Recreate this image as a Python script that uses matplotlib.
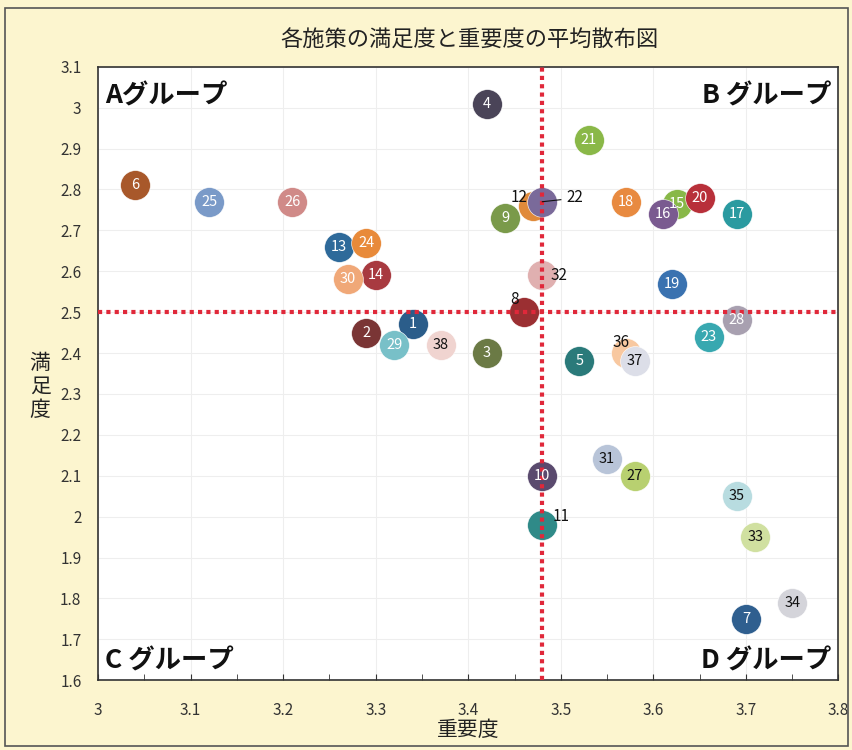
import matplotlib
matplotlib.use("Agg")
import matplotlib.pyplot as plt
from matplotlib.patches import Rectangle
import numpy as np

plt.rcParams["font.family"] = ["Noto Sans CJK JP", "DejaVu Sans"]

# 施策番号と 重要度(x) / 満足度(y)
ids = list(range(1, 39))
importance = [3.34, 3.29, 3.42, 3.42, 3.52, 3.04, 3.70, 3.46, 3.44, 3.48,
              3.48, 3.47, 3.26, 3.30, 3.625, 3.61, 3.69, 3.57, 3.62, 3.65,
              3.53, 3.48, 3.66, 3.29, 3.12, 3.21, 3.58, 3.69, 3.32, 3.27,
              3.55, 3.48, 3.71, 3.75, 3.69, 3.57, 3.58, 3.37]
satisfaction = [2.47, 2.45, 2.40, 3.01, 2.38, 2.81, 1.75, 2.50, 2.73, 2.10,
                1.98, 2.76, 2.66, 2.59, 2.765, 2.74, 2.74, 2.77, 2.57, 2.78,
                2.92, 2.77, 2.44, 2.67, 2.77, 2.77, 2.10, 2.48, 2.42, 2.58,
                2.14, 2.59, 1.95, 1.79, 2.05, 2.40, 2.38, 2.42]
colors = ["#2b5d8a", "#7a3535", "#6b7a45", "#4a4458", "#2a7a7a", "#a8582a",
          "#2f5f8f", "#9b2f32", "#7a9a4a", "#5a4a6e", "#2f8a88", "#e08a3a",
          "#2e6a9a", "#a83a40", "#88b848", "#7a5a90", "#2a9aa0", "#e88a40",
          "#3a72b0", "#b8303a", "#8ab848", "#7a6a9a", "#38a8b0", "#e88a3a",
          "#7a9ac8", "#d08a88", "#b8d070", "#a8a0b0", "#78c0c8", "#f0a878",
          "#b8c4d8", "#e0b0b0", "#d0e0a0", "#d4d4da", "#b8dce0", "#f8c8a0",
          "#dcdee8", "#f0d4d0"]
dark_text = {27, 31, 33, 34, 35, 37, 38}
outside = {8: (-0.01, 0.03), 11: (0.02, 0.02), 12: (-0.015, 0.02),
           22: (0.035, 0.01), 32: (0.018, 0.0), 36: (-0.005, 0.025)}
mean_x, mean_y = 3.48, 2.50
groups = ["Aグループ", "B グループ", "C グループ", "D グループ"]

fig = plt.figure(figsize=(8.53, 7.5), dpi=100)
fig.patch.set_facecolor("#fcf5cf")
fig.patches.append(Rectangle((0.006, 0.006), 0.988, 0.984, transform=fig.transFigure,
                             fill=False, edgecolor="#555555", linewidth=1.2))
ax = fig.add_axes([0.115, 0.093, 0.868, 0.818])
ax.set_facecolor("white")

ax.set_xlim(3.0, 3.8)
ax.set_ylim(1.6, 3.1)
ax.set_xticks(np.round(np.arange(3.0, 3.81, 0.1), 2))
ax.set_xticklabels(["3", "3.1", "3.2", "3.3", "3.4", "3.5", "3.6", "3.7", "3.8"])
ax.set_yticks(np.round(np.arange(1.6, 3.11, 0.1), 2))
ax.set_yticklabels(["1.6", "1.7", "1.8", "1.9", "2", "2.1", "2.2", "2.3", "2.4",
                    "2.5", "2.6", "2.7", "2.8", "2.9", "3", "3.1"])
ax.set_xticks(np.arange(3.05, 3.8, 0.1), minor=True)
ax.grid(True, color="#eeeeee", linewidth=0.8)
ax.tick_params(axis="x", which="both", direction="in", length=4, pad=16,
               labelsize=11, colors="#333333")
ax.tick_params(axis="y", length=0, pad=12, labelsize=11, colors="#333333")
for s in ax.spines.values():
    s.set_color("#333333")
    s.set_linewidth(1.2)

for i, x, y, c in zip(ids, importance, satisfaction, colors):
    ax.scatter(x, y, s=460, color=c, edgecolors="white", linewidths=0.4, zorder=3)
    if i in outside:
        dx, dy = outside[i]
        ax.text(x + dx, y + dy, str(i), fontsize=11, color="#111111",
                ha="center", va="center", zorder=6)
        if i == 22:
            ax.plot([x, x + 0.02], [y, y + 0.005], color="#111111", lw=0.8, zorder=6)
    else:
        ax.text(x, y, str(i), fontsize=10.5, ha="center", va="center", zorder=6,
                color="#111111" if i in dark_text else "white")

ax.axvline(mean_x, color="#e0283a", lw=3, ls=(0, (1, 1)), zorder=5)
ax.axhline(mean_y, color="#e0283a", lw=3, ls=(0, (1, 1)), zorder=5)

kw = dict(fontsize=19, fontweight="bold", color="#111111", transform=ax.transAxes, zorder=7)
ax.text(0.01, 0.975, groups[0], ha="left", va="top", **kw)
ax.text(0.99, 0.975, groups[1], ha="right", va="top", **kw)
ax.text(0.01, 0.01, groups[2], ha="left", va="bottom", **kw)
ax.text(0.99, 0.01, groups[3], ha="right", va="bottom", **kw)

fig.text(0.55, 0.947, "各施策の満足度と重要度の平均散布図", ha="center", va="center",
         fontsize=16, color="#222222")
ax.set_xlabel("重要度", fontsize=15, color="#222222", labelpad=0)
fig.text(0.047, 0.485, "満\n足\n度", ha="center", va="center", fontsize=15,
         color="#222222", linespacing=1.1)

fig.savefig("out.png", dpi=100, facecolor=fig.get_facecolor())
